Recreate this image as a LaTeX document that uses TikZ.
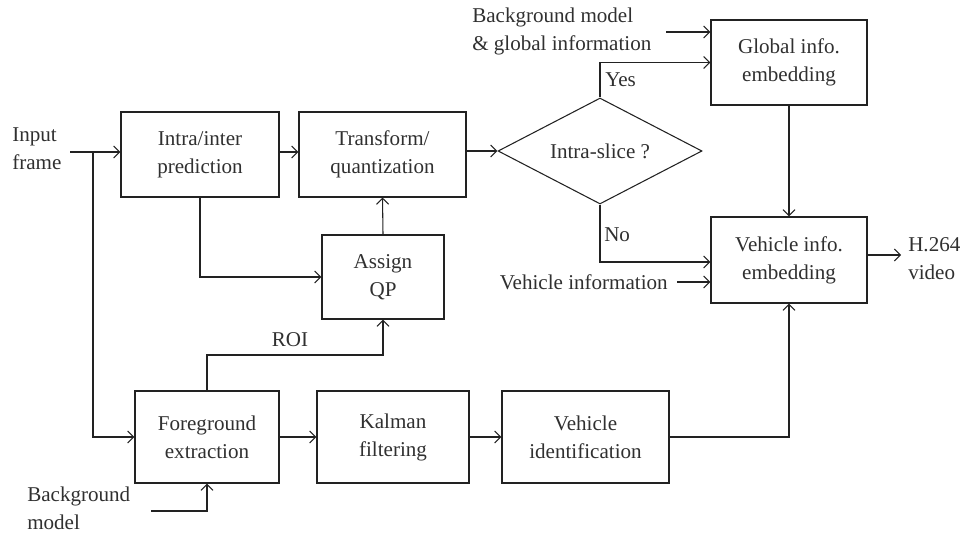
\documentclass[tikz,border=0pt]{standalone}
\usepackage{fontspec}
\setmainfont{Liberation Serif}
\usetikzlibrary{arrows.meta,shapes.geometric}
\definecolor{ink}{HTML}{222222}
\definecolor{txt}{HTML}{303030}
\begin{document}
\begin{tikzpicture}[x=0.75pt,y=-0.75pt,
  font=\fontsize{15.8}{21}\selectfont,
  every node/.style={text=txt},
  box/.style={draw=ink,line width=0.8pt,inner sep=0pt,align=center},
  lbl/.style={inner sep=0pt,align=left},
  arr/.style={draw=ink,line width=0.8pt,-{Straight Barb[length=4.5pt,width=9pt]}},
  ln/.style={draw=ink,line width=0.8pt}]
\useasboundingbox (0,0) rectangle (962,535);
% boxes
\node[box,minimum width=158*0.75pt,minimum height=85*0.75pt] (intra) at (200,154.5) {Intra/inter\\prediction};
\node[box,minimum width=167*0.75pt,minimum height=85*0.75pt] (trans) at (382.5,154.5) {Transform/\\quantization};
\node[box,minimum width=122*0.75pt,minimum height=84*0.75pt] (assign) at (383,277) {Assign\\QP};
\node[box,minimum width=156*0.75pt,minimum height=85*0.75pt] (global) at (789,62.5) {Global info.\\embedding};
\node[box,minimum width=156*0.75pt,minimum height=86*0.75pt] (vinfo) at (789,260) {Vehicle info.\\embedding};
\node[box,minimum width=144*0.75pt,minimum height=92*0.75pt] (fg) at (207,437) {Foreground\\extraction};
\node[box,minimum width=152*0.75pt,minimum height=92*0.75pt] (kal) at (393,437) {Kalman\\filtering};
\node[box,minimum width=167*0.75pt,minimum height=92*0.75pt] (vid) at (585.5,437) {Vehicle\\identification};
\node[draw=ink,line width=0.8pt,diamond,aspect=1.92,inner sep=0pt,minimum width=204*0.75pt,minimum height=106*0.75pt] (dia) at (600,151) {Intra-slice ?};
% text labels
\node[lbl,anchor=west] (input) at (12,149) {Input\\frame};
\node[lbl,anchor=west] (bgtop) at (472,31) {Background model\\\& global information};
\node[lbl,anchor=east] (vehinf) at (668,282) {Vehicle information};
\node[lbl,anchor=west] (out) at (908,259) {H.264\\video};
\node[lbl,anchor=west] (bgbot) at (27,508) {Background\\model};
\node[lbl] (roi) at (290,340) {ROI};
\node[lbl,anchor=west] (yes) at (605,80) {Yes};
\node[lbl,anchor=west] (no) at (604,235) {No};
% coordinates
\coordinate (inL) at (70,152);
\coordinate (br) at (93,152);
\coordinate (bgA) at (666,32);
\coordinate (noY) at (600,262);
\coordinate (viA) at (677,282);
\coordinate (outY) at (867,255);
\coordinate (outE) at (901,255);
\coordinate (bgB) at (151,511);
\coordinate (roiY) at (207,355);
% connectors
\draw[arr] (inL) -- (intra.west |- inL);
\draw[arr] (br) |- (fg.west);
\draw[arr] (intra.east |- inL) -- (trans.west |- inL);
\draw[arr] (trans.east |- dia.west) -- (dia.west);
\draw[arr] (dia.north) |- (global.west);
\draw[arr] (bgA) -- (global.west |- bgA);
\draw[arr] (global.south) -- (vinfo.north);
\draw[arr] (dia.south) |- (vinfo.west |- noY);
\draw[arr] (viA) -- (vinfo.west |- viA);
\draw[arr] (outY) -- (outE);
\draw[arr] (vid.east) -| (vinfo.south);
\draw[arr] (fg.east) -- (kal.west);
\draw[arr] (kal.east) -- (vid.west);
\draw[arr] (fg.north) -- (roiY) -| (assign.south);
\draw[arr] (intra.south) |- (assign.west);
\draw[arr] (assign.north) -- (trans.south);
\draw[arr] (bgB) -| (fg.south);
\end{tikzpicture}
\end{document}
